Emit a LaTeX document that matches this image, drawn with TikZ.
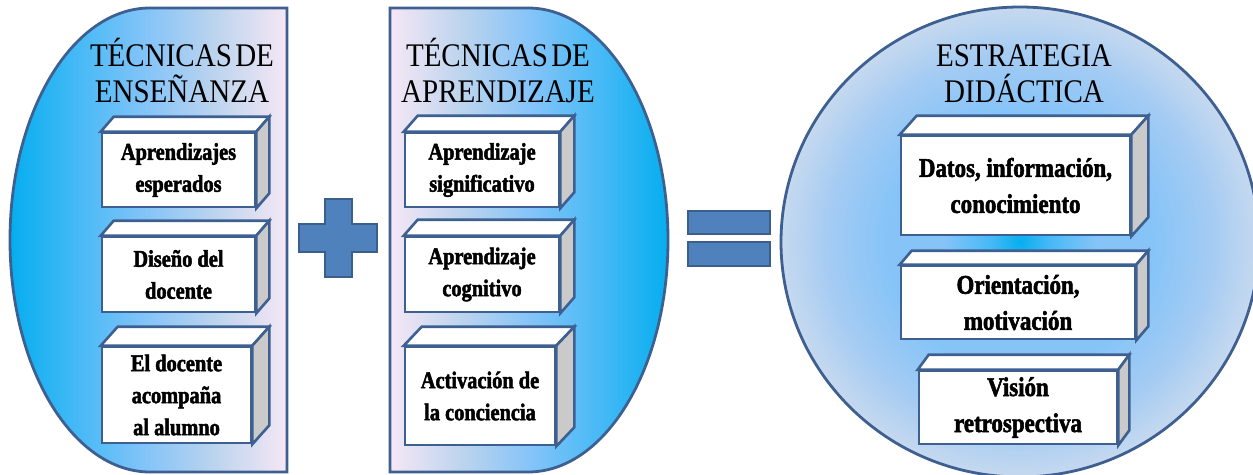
\documentclass[tikz,border=0pt]{standalone}
\usepackage{fontspec}
\newfontfamily\titlefont{Liberation Serif}[FakeStretch=0.88]
\newfontfamily\boxfont{Liberation Serif}[FakeStretch=0.85,FakeBold=2]
\definecolor{edge}{HTML}{3E6091}
\definecolor{opfill}{HTML}{4F81BD}
\definecolor{opedge}{HTML}{3A5F8B}
\definecolor{sidegray}{HTML}{CACACA}
\definecolor{cy}{HTML}{05AEEF}
\definecolor{cy2}{HTML}{45B9F6}
\definecolor{mb}{HTML}{86C4F8}
\definecolor{lb}{HTML}{BCD4EE}
\definecolor{pk}{HTML}{F6E7F5}
\definecolor{mb2}{HTML}{A4CBF3}
\definecolor{pale}{HTML}{C6D9EF}
\pgfdeclarehorizontalshading{lshade}{100bp}{color(0bp)=(cy); color(25bp)=(cy); color(37bp)=(cy2); color(50bp)=(mb); color(62bp)=(lb); color(75bp)=(pk); color(100bp)=(pk)}
\pgfdeclarehorizontalshading{rshade}{100bp}{color(0bp)=(pk); color(25bp)=(pk); color(38bp)=(lb); color(50bp)=(mb); color(63bp)=(cy2); color(75bp)=(cy); color(100bp)=(cy)}
\pgfdeclareradialshading{cshade}{\pgfpoint{0bp}{0bp}}{color(0bp)=(cy); color(3bp)=(cy2); color(8bp)=(mb); color(14bp)=(mb); color(20bp)=(mb2); color(25bp)=(pale); color(50bp)=(pale)}
\tikzset{
  bigshape/.style={draw=edge, line width=2.8pt},
  opsign/.style={fill=opfill, draw=opedge, line width=2.5pt},
  frontbox/.style={draw=edge, line width=2.6pt, fill=white, align=center, inner sep=0pt,
    font=\boxfont\bfseries\fontsize{24}{32}\selectfont},
  bigtext/.style={font=\boxfont\bfseries\fontsize{27}{36}\selectfont},
  topface/.style={draw=edge, line width=2.6pt, fill=white},
  sideface/.style={draw=edge, line width=2.6pt, fill=sidegray},
  titletext/.style={font=\titlefont\fontsize{33}{36}\selectfont, align=center, inner sep=0pt, anchor=south}
}
% #1 name, #2 extra style, #3 centre, #4 width, #5 height, #6 dx, #7 dy, #8 text
\newcommand\cubebox[8]{%
  \node[frontbox,#2,minimum width=#4pt,minimum height=#5pt] (#1) at #3 {#8};
  \draw[topface] (#1.north west) -- ++(#6,-#7) -- ([shift={(#6,-#7)}]#1.north east) -- (#1.north east) -- cycle;
  \draw[sideface] (#1.north east) -- ++(#6,-#7) -- ([shift={(#6,-#7)}]#1.south east) -- (#1.south east) -- cycle;
}
\begin{document}
\begin{tikzpicture}[x=1pt,y=-1pt,line join=miter]
\useasboundingbox (0,0) rectangle (1253,474);
\clip (0,0) rectangle (1253,474);
% big shapes
\shadedraw[shading=lshade, bigshape] (287,8) -- (150,8) arc[start angle=270, end angle=90, x radius=140, y radius=232] -- (287,472) -- cycle;
\shadedraw[shading=rshade, bigshape] (390,8) -- (528,8) arc[start angle=-90, end angle=90, x radius=140, y radius=232] -- (390,472) -- cycle;
\shadedraw[shading=cshade, bigshape] (1020,242) ellipse [x radius=239, y radius=235];
% plus and equals
\draw[opsign] (325,199) -- (352,199) -- (352,224) -- (377,224) -- (377,252) -- (352,252) -- (352,277) -- (325,277) -- (325,252) -- (299,252) -- (299,224) -- (325,224) -- cycle;
\draw[opsign] (688,211) rectangle (770,234);
\draw[opsign] (688,242) rectangle (770,266);
% titles
\node[titletext] (t1) at (182,103) {TÉCNICAS\hspace{0.1em}DE\\ENSEÑANZA};
\node[titletext] (t2) at (498,103) {TÉCNICAS\hspace{0.1em}DE\\APRENDIZAJE};
\node[titletext] (t3) at (1024,103) {ESTRATEGIA\\DIDÁCTICA};
% boxes
\cubebox{l1}{}{(178.5,170)}{153}{74}{13}{15}{Aprendizajes\\esperados}
\cubebox{l2}{}{(178.5,274.5)}{153}{75}{13}{15}{Diseño del\\docente}
\cubebox{l3}{}{(176.5,395)}{149}{96}{17}{19}{El docente\\acompaña\\al alumno}
\cubebox{m1}{}{(482,170)}{154}{74}{14}{16}{Aprendizaje\\significativo}
\cubebox{m2}{}{(482,274.5)}{154}{75}{14}{16}{Aprendizaje\\cognitivo}
\cubebox{m3}{}{(480,396)}{150}{98}{18}{19}{Activación de\\la conciencia}
\cubebox{r1}{bigtext}{(1015.5,185.5)}{229}{99}{17}{19}{Datos, información,\\conocimiento}
\cubebox{r2}{bigtext}{(1018,302.5)}{234}{73}{12}{14}{Orientación,\\motivación}
\cubebox{r3}{bigtext}{(1018,407.5)}{198}{73}{11}{15}{Visión\\retrospectiva}
\end{tikzpicture}
\end{document}
